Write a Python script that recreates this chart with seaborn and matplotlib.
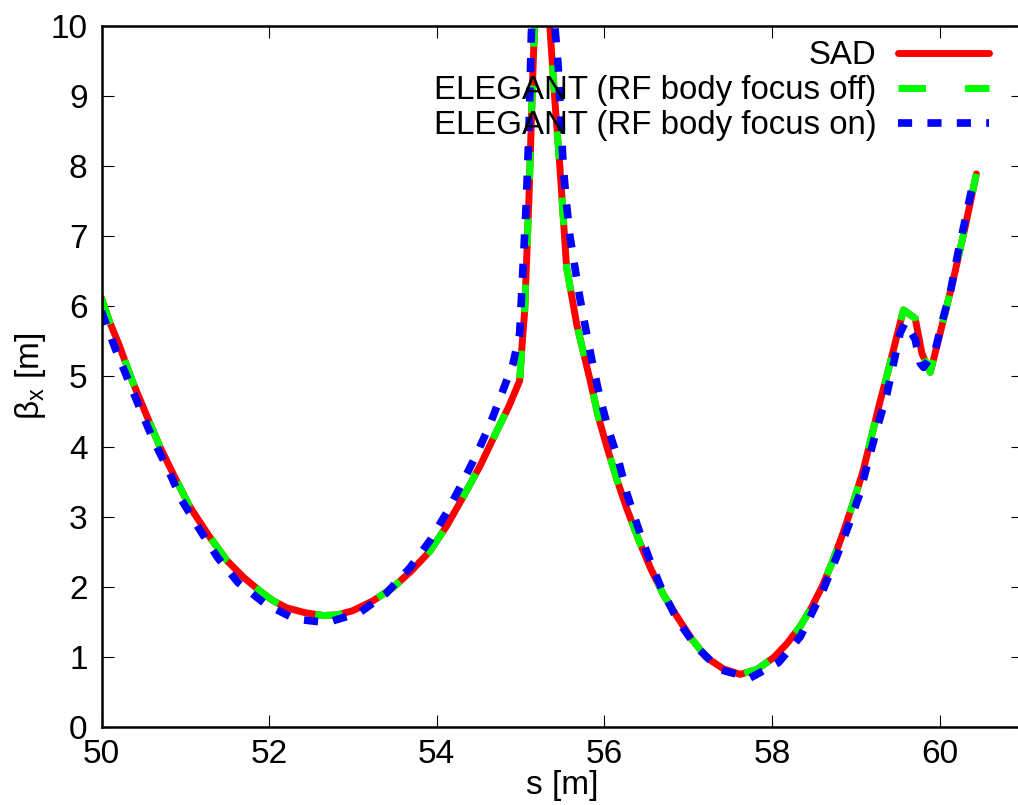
import numpy as np
import pandas as pd
import matplotlib
matplotlib.use("Agg")
import matplotlib.pyplot as plt
import seaborn as sns

# ---- data ----
sad_s = [50.00, 50.10, 50.20, 50.38, 50.54, 50.70, 50.88, 51.06, 51.28, 51.50,
         51.70, 51.89, 52.05, 52.21, 52.43, 52.65, 52.82, 53.00, 53.24, 53.48,
         53.70, 53.92, 54.12, 54.31, 54.52, 54.72, 54.86, 54.99, 55.02, 55.05,
         55.10, 55.15, 55.23, 55.35, 55.41, 55.47, 55.55, 55.67, 55.83, 55.93,
         56.03, 56.15, 56.27, 56.41, 56.55, 56.70, 56.86, 57.04, 57.22, 57.42,
         57.62, 57.82, 58.02, 58.18, 58.34, 58.48, 58.61, 58.73, 58.85, 58.97,
         59.09, 59.19, 59.29, 59.37, 59.45, 59.57, 59.71, 59.79, 59.89, 60.01,
         60.16, 60.30, 60.44]
sad_beta = [6.12, 5.77, 5.48, 4.90, 4.44, 3.99, 3.55, 3.13, 2.73, 2.37,
            2.13, 1.94, 1.80, 1.70, 1.63, 1.59, 1.60, 1.66, 1.80, 1.99,
            2.23, 2.51, 2.87, 3.27, 3.73, 4.23, 4.57, 4.94, 5.47, 5.94,
            7.51, 9.42, 12.0, 10.0, 8.94, 7.99, 6.56, 5.75, 4.95, 4.42,
            4.00, 3.53, 3.11, 2.67, 2.27, 1.90, 1.59, 1.26, 0.99, 0.83,
            0.75, 0.82, 0.99, 1.19, 1.44, 1.72, 2.03, 2.38, 2.77, 3.20,
            3.66, 4.15, 4.64, 5.00, 5.38, 5.95, 5.83, 5.33, 5.06, 5.63,
            6.36, 7.10, 7.89]

off_s = list(sad_s)
off_beta = list(sad_beta)

on_s = [50.00, 50.16, 50.46, 50.62, 50.80, 50.96, 51.18, 51.39, 51.63, 51.95,
        52.31, 52.69, 53.08, 53.40, 53.68, 53.92, 54.12, 54.30, 54.48, 54.64,
        54.79, 54.91, 54.99, 55.03, 55.07, 55.10, 55.13, 55.25, 55.41, 55.45,
        55.51, 55.55, 55.59, 55.65, 55.71, 55.78, 55.86, 55.95, 56.05, 56.17,
        56.27, 56.39, 56.53, 56.68, 56.87, 57.10, 57.38, 57.74, 58.08, 58.34,
        58.61, 58.77, 58.91, 59.05, 59.15, 59.25, 59.37, 59.45, 59.53, 59.59,
        59.71, 59.77, 59.81, 59.95, 60.04, 60.13, 60.22, 60.30, 60.40]
on_beta = [5.93, 5.41, 4.54, 4.09, 3.66, 3.23, 2.80, 2.41, 2.06, 1.76,
           1.54, 1.49, 1.63, 1.91, 2.27, 2.66, 3.06, 3.47, 3.90, 4.33,
           4.80, 5.18, 5.61, 6.56, 7.51, 8.47, 9.90, 13.0, 10.0, 9.42,
           7.99, 7.45, 7.00, 6.55, 6.11, 5.67, 5.18, 4.69, 4.24, 3.80,
           3.33, 2.89, 2.42, 1.98, 1.53, 1.14, 0.82, 0.70, 0.92, 1.29,
           1.95, 2.42, 2.86, 3.33, 3.80, 4.24, 4.74, 5.18, 5.62, 5.77,
           5.53, 5.19, 5.13, 5.38, 5.82, 6.21, 6.76, 7.20, 7.76]

labels = ["SAD", "ELEGANT (RF body focus off)", "ELEGANT (RF body focus on)"]
x_ticks = [50, 52, 54, 56, 58, 60]
y_ticks = list(range(0, 11))

# ---- styling ----
sns.set_theme(style="white")
plt.rcParams['font.family'] = ['Liberation Sans', 'DejaVu Sans']
plt.rcParams['mathtext.fontset'] = 'custom'
plt.rcParams['mathtext.rm'] = 'Liberation Sans'
plt.rcParams['mathtext.it'] = 'Liberation Sans'
plt.rcParams['lines.solid_joinstyle'] = 'round'
plt.rcParams['lines.dash_joinstyle'] = 'round'

fig = plt.figure(figsize=(10.18, 8.05), dpi=100)
ax = fig.add_axes([101.5 / 1018, 1 - 727 / 805, 921.8 / 1018, 701 / 805])

df_sad = pd.DataFrame({"s": sad_s, "beta": sad_beta})
df_off = pd.DataFrame({"s": off_s, "beta": off_beta})
df_on = pd.DataFrame({"s": on_s, "beta": on_beta})

sns.lineplot(data=df_sad, x="s", y="beta", ax=ax, color="#ff0000", lw=5.0,
             estimator=None, sort=False, label=labels[0])
sns.lineplot(data=df_off, x="s", y="beta", ax=ax, color="#00ff00", lw=5.0,
             estimator=None, sort=False, label=labels[1],
             linestyle=(0, (3.96, 5.6)))
sns.lineplot(data=df_on, x="s", y="beta", ax=ax, color="#0000ff", lw=5.5,
             estimator=None, sort=False, label=labels[2],
             linestyle=(0, (1.85, 2.0)))

ax.set_xticks(x_ticks + [62])
ax.set_xticklabels([str(t) for t in x_ticks] + [""])
ax.set_xlim(50, 61)
ax.set_yticks(y_ticks)
ax.set_yticklabels([str(t) for t in y_ticks])
ax.set_ylim(0, 10)

for sp in ax.spines.values():
    sp.set_visible(True)
    sp.set_color("black")
    sp.set_linewidth(1.8)

ax.tick_params(axis="both", which="major", direction="in", length=8.6,
               width=0.8, color="black", labelsize=24, labelcolor="black",
               top=True, right=True, bottom=True, left=True)
ax.tick_params(axis="y", pad=10)
ax.tick_params(axis="x", pad=8.5)

ax.set_xlabel("s [m]", fontsize=24, color="black", labelpad=0)
ax.set_ylabel(r"β$_{\mathrm{x}}$ [m]", fontsize=24, color="black", labelpad=2)

leg = ax.legend(loc="upper right", bbox_to_anchor=(989 / 1018, 0.950),
                bbox_transform=fig.transFigure, frameon=False, markerfirst=False,
                fontsize=23.8, handlelength=2.75, handletextpad=0.66,
                labelspacing=0.12, borderpad=0, borderaxespad=0)
for t in leg.get_texts():
    t.set_color("black")

fig.savefig("out.png", dpi=100, facecolor="white")
